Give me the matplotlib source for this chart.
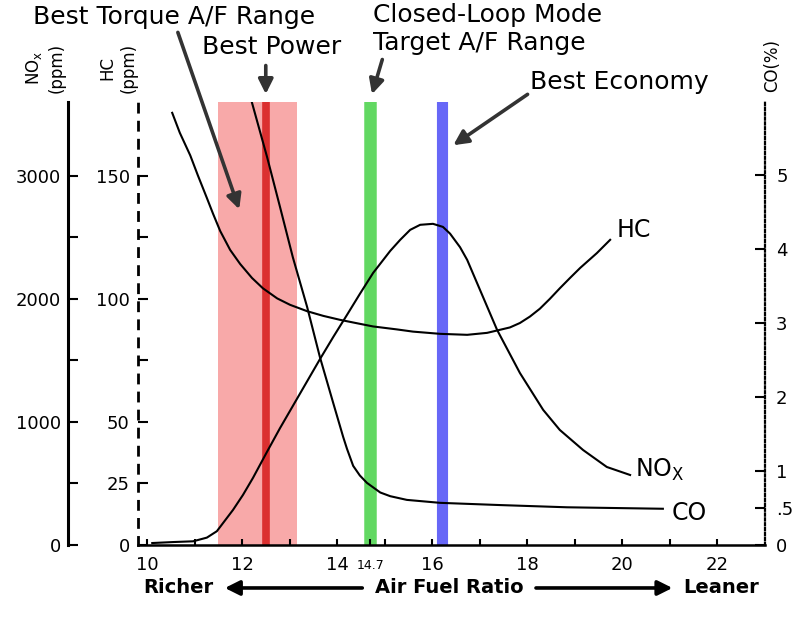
import matplotlib.pyplot as plt

# --- values ---
# HC curve (ppm) against air/fuel ratio
hc_afr = [10.53, 10.69, 10.91, 11.07, 11.26, 11.39, 11.54, 11.75, 11.96, 12.21, 12.44,
          12.74, 13.01, 13.37, 13.71, 14.06, 14.42, 14.76, 15.26, 15.60, 16.17, 16.74,
          17.16, 17.64, 17.85, 18.06, 18.27, 18.48, 18.69, 18.91, 19.12, 19.47, 19.75]
hc_ppm = [175.6, 167.5, 158.3, 150.2, 141.0, 134.6, 127.6, 119.9, 114.2, 108.5, 104.3,
          100.2, 97.6, 95.0, 93.1, 91.5, 90.1, 88.8, 87.6, 86.7, 85.8, 85.4,
          86.2, 88.4, 90.2, 92.8, 96.0, 100.0, 104.3, 108.6, 112.6, 118.6, 124.0]

# NOx curve (ppm)
nox_afr = [10.11, 10.55, 10.97, 11.26, 11.47, 11.81, 12.02, 12.23, 12.53, 12.80, 13.16,
           13.43, 13.64, 13.92, 14.21, 14.48, 14.76, 15.12, 15.33, 15.54, 15.75, 16.02,
           16.23, 16.38, 16.59, 16.74, 17.01, 17.37, 17.85, 18.34, 18.69, 19.18, 19.68,
           20.17]
nox_ppm = [16, 24, 30, 60, 112, 285, 407, 545, 760, 950, 1190,
           1370, 1510, 1690, 1870, 2040, 2211, 2390, 2480, 2561, 2602, 2610,
           2585, 2530, 2420, 2317, 2073, 1748, 1398, 1098, 935, 772, 634,
           569]

# CO curve (%)
co_afr = [12.21, 12.53, 12.80, 13.07, 13.37, 13.64, 13.92, 14.13, 14.21, 14.34, 14.48,
          14.63, 14.91, 15.12, 15.47, 16.17, 17.43, 18.84, 20.86]
co_pct = [5.98, 5.24, 4.57, 3.89, 3.22, 2.54, 1.92, 1.46, 1.30, 1.07, 0.94,
          0.84, 0.71, 0.66, 0.61, 0.57, 0.54, 0.51, 0.49]

# marked air/fuel ratios
torque_range = (11.5, 13.15)
best_power = 12.5
closed_loop = 14.7
best_economy = 16.2

x_major = list(range(10, 23))
x_labels = [str(v) if v % 2 == 0 else "" for v in x_major]
nox_ticks = [0, 1000, 2000, 3000]
nox_minor = [500, 1500, 2500]
hc_ticks = [0, 25, 50, 100, 150]
hc_minor = [75, 125]
co_ticks = [0, 0.5, 1, 2, 3, 4, 5]
co_labels = ["0", ".5", "1", "2", "3", "4", "5"]

fig = plt.figure(figsize=(8.01, 6.26), dpi=100)
ax = fig.add_axes([138 / 801, 81 / 626, 627 / 801, 443 / 626])
ax.set_xlim(9.81, 23.01)
ax.set_ylim(0, 3600)

# shaded ranges
ax.axvspan(*torque_range, color="#f8a9a9", lw=0, zorder=0)
ax.axvline(best_power, color="#db3030", lw=5.5, zorder=0.5)
ax.axvline(closed_loop, color="#62d862", lw=9, zorder=0.5)
ax.axvline(best_economy, color="#6767f7", lw=8, zorder=0.5)

# NOx axis (solid, pushed left)
ax.spines["top"].set_visible(False)
ax.spines["right"].set_visible(False)
ax.spines["left"].set_position(("axes", -0.1116))
ax.spines["left"].set_linewidth(2.2)
ax.spines["bottom"].set_linewidth(1.8)
ax.set_yticks(nox_ticks)
ax.set_yticks(nox_minor, minor=True)
ax.tick_params(axis="y", which="both", direction="in", length=7, width=1.5,
               labelsize=13, pad=5)
ax.set_xticks(x_major)
ax.set_xticklabels(x_labels)
ax.set_xticks([closed_loop], minor=True)
ax.set_xticklabels(["14.7"], minor=True)
ax.tick_params(axis="x", which="major", direction="in", length=4, width=1.5,
               labelsize=13, pad=8)
ax.tick_params(axis="x", which="minor", direction="in", length=4, width=1.5,
               labelsize=9, pad=10)

# HC axis (dashed, at the plot edge)
hc = ax.twinx()
hc.set_ylim(0, 180)
for s in ["top", "right", "bottom"]:
    hc.spines[s].set_visible(False)
hc.spines["left"].set_visible(True)
hc.spines["left"].set_linewidth(2)
hc.spines["left"].set_linestyle((0, (2.9, 3.6)))
hc.yaxis.tick_left()
hc.set_yticks(hc_ticks)
hc.set_yticks(hc_minor, minor=True)
hc.tick_params(axis="y", which="both", direction="in", length=7, width=1.5,
               labelsize=13, pad=6)

# CO axis (dotted, right)
co = ax.twinx()
co.set_ylim(0, 5.99)
for s in ["top", "left", "bottom"]:
    co.spines[s].set_visible(False)
co.spines["right"].set_linewidth(1.6)
co.spines["right"].set_linestyle((0, (1, 1.2)))
co.set_yticks(co_ticks)
co.set_yticklabels(co_labels)
co.tick_params(axis="y", direction="in", length=7, width=1.5, labelsize=13, pad=8)

# curves
ax.plot(nox_afr, nox_ppm, color="black", lw=1.5, zorder=3)
hc.plot(hc_afr, hc_ppm, color="black", lw=1.5)
co.plot(co_afr, co_pct, color="black", lw=1.5)

# curve names
ax.text(19.89, 2561, "HC", fontsize=17, va="center")
ax.text(20.27, 610, r"NO$_\mathregular{X}$", fontsize=17, va="center")
ax.text(21.05, 260, "CO", fontsize=17, va="center")

# annotations with arrows
arrow = dict(arrowstyle="-|>", lw=2.6, color="#333333", mutation_scale=22)
ax.text(10.57, 4293, "Best Torque A/F Range", fontsize=18, ha="center", va="center")
ax.annotate("", xy=(11.96, 2707), xytext=(10.63, 4187), arrowprops=arrow,
            annotation_clip=False)
ax.text(12.63, 4049, "Best Power", fontsize=18, ha="center", va="center")
ax.annotate("", xy=(best_power, 3642), xytext=(best_power, 3919), arrowprops=arrow,
            annotation_clip=False)
ax.text(14.76, 4309, "Closed-Loop Mode", fontsize=18, ha="left", va="center")
ax.text(14.76, 4081, "Target A/F Range", fontsize=18, ha="left", va="center")
ax.annotate("", xy=(14.72, 3642), xytext=(14.97, 3967), arrowprops=arrow,
            annotation_clip=False)
ax.text(18.06, 3764, "Best Economy", fontsize=18, ha="left", va="center")
ax.annotate("", xy=(16.40, 3236), xytext=(18.06, 3675), arrowprops=arrow,
            annotation_clip=False)

# richer / leaner row
xt = ax.get_xaxis_transform()
ax.text(9.92, -0.097, "Richer", transform=xt, fontsize=14, fontweight="bold",
        ha="left", va="center")
ax.text(16.36, -0.097, "Air Fuel Ratio", transform=xt, fontsize=14, fontweight="bold",
        ha="center", va="center")
ax.text(21.28, -0.097, "Leaner", transform=xt, fontsize=14, fontweight="bold",
        ha="left", va="center")
big = dict(arrowstyle="-|>", lw=2.6, color="black", mutation_scale=22)
ax.annotate("", xy=(11.58, -0.097), xytext=(14.59, -0.097), xycoords=xt,
            textcoords=xt, arrowprops=big, annotation_clip=False)
ax.annotate("", xy=(21.12, -0.097), xytext=(18.13, -0.097), xycoords=xt,
            textcoords=xt, arrowprops=big, annotation_clip=False)

# rotated axis titles
fig.text(45 / 801, 1 - 68 / 626, "NO$_\\mathregular{x}$\n(ppm)", rotation=90,
         fontsize=12, ha="center", va="center", linespacing=1.25)
fig.text(118 / 801, 1 - 68 / 626, "HC\n(ppm)", rotation=90,
         fontsize=12, ha="center", va="center", linespacing=1.25)
fig.text(772 / 801, 1 - 65 / 626, "CO(%)", rotation=90,
         fontsize=12, ha="center", va="center")

fig.savefig("out.png", dpi=100)
